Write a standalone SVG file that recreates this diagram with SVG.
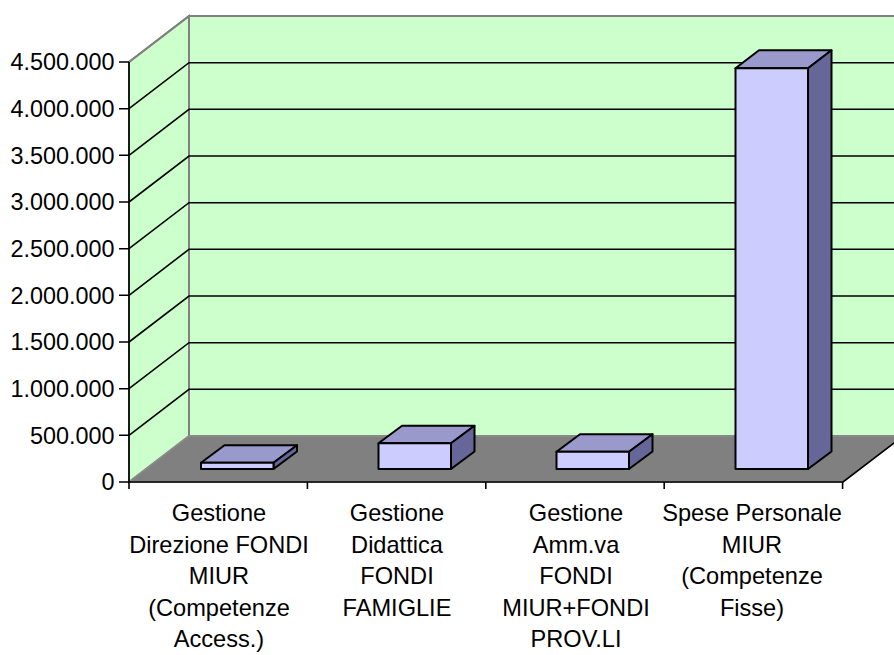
<svg xmlns="http://www.w3.org/2000/svg" width="894" height="655" viewBox="0 0 894 655">
<style>
.wall{fill:#CCFFCC;stroke:#808080;stroke-width:2}
.grid{stroke:#000;stroke-width:1.6;fill:none}
.axis{stroke:#000;stroke-width:1.6;fill:none}
.front{fill:#CCCCFF;stroke:#000;stroke-width:2;stroke-linejoin:round}
.top{fill:#9999CC;stroke:#000;stroke-width:2;stroke-linejoin:round}
.side{fill:#666699;stroke:#000;stroke-width:2;stroke-linejoin:round}
.ylab{font-family:"Liberation Sans",Arial,sans-serif;font-size:23.4px;fill:#000;text-anchor:end}
.xlab{font-family:"Liberation Sans",Arial,sans-serif;font-size:23.6px;fill:#000;text-anchor:middle}
</style>
<rect width="894" height="655" fill="#fff"/>
<g id="walls">
<polygon class="wall" points="189,16 903,16 903,436 189,436"/>
<polygon class="wall" points="129,62 189,16 189,436 129,482"/>
<polygon points="129,482 189,436 903,436 843,482" fill="#808080" stroke="#8c8c8c" stroke-width="1.5"/>
</g>
<g id="gridlines">
<path class="grid" d="M129,435.3 L189,389.3 L903,389.3 M129,388.7 L189,342.7 L903,342.7 M129,342 L189,296 L903,296 M129,295.3 L189,249.3 L903,249.3 M129,248.7 L189,202.7 L903,202.7 M129,202 L189,156 L903,156 M129,155.3 L189,109.3 L903,109.3 M129,108.7 L189,62.7 L903,62.7"/>
<path d="M129,62 L189,16 L903,16" fill="none" stroke="#808080" stroke-width="2"/>
</g>
<g id="axes">
<path class="axis" d="M129,62 L129,482 L843,482 L903,436"/>
<path class="axis" d="M119,62 H129 M119,108.7 H129 M119,155.3 H129 M119,202 H129 M119,248.7 H129 M119,295.3 H129 M119,342 H129 M119,388.7 H129 M119,435.3 H129 M119,482 H129"/>
<path class="axis" d="M129,482 V489 M307.4,482 V489 M485.8,482 V489 M664.2,482 V489 M842.6,482 V489"/>
</g>
<g id="ylabels">
<text class="ylab" x="114.5" y="70.3">4.500.000</text>
<text class="ylab" x="114.5" y="117">4.000.000</text>
<text class="ylab" x="114.5" y="163.6">3.500.000</text>
<text class="ylab" x="114.5" y="210.3">3.000.000</text>
<text class="ylab" x="114.5" y="257">2.500.000</text>
<text class="ylab" x="114.5" y="303.6">2.000.000</text>
<text class="ylab" x="114.5" y="350.3">1.500.000</text>
<text class="ylab" x="114.5" y="397">1.000.000</text>
<text class="ylab" x="114.5" y="443.6">500.000</text>
<text class="ylab" x="114.5" y="490.3">0</text>
</g>
<g id="bar1">
<polygon class="top" points="201,462.7 273.5,462.7 297,445.2 224.5,445.2"/>
<polygon class="side" points="273.5,462.7 297,445.2 297,451.5 273.5,469"/>
<rect class="front" x="201" y="462.7" width="72.5" height="6.3"/>
</g>
<g id="bar2">
<polygon class="top" points="378.5,443.3 451,443.3 474.5,425.8 402,425.8"/>
<polygon class="side" points="451,443.3 474.5,425.8 474.5,451.5 451,469"/>
<rect class="front" x="378.5" y="443.3" width="72.5" height="25.7"/>
</g>
<g id="bar3">
<polygon class="top" points="556.5,451.7 629,451.7 652.5,434.2 580,434.2"/>
<polygon class="side" points="629,451.7 652.5,434.2 652.5,451.5 629,469"/>
<rect class="front" x="556.5" y="451.7" width="72.5" height="17.3"/>
</g>
<g id="bar4">
<polygon class="top" points="735.5,68.3 808,68.3 831.5,50.3 759,50.3"/>
<polygon class="side" points="808,68.3 831.5,50.3 831.5,451.5 808,469"/>
<rect class="front" x="735.5" y="68.3" width="72.5" height="400.7"/>
</g>
<g id="xlabels">
<text class="xlab" x="219"><tspan x="219" y="521">Gestione</tspan><tspan x="219" y="552.6">Direzione FONDI</tspan><tspan x="219" y="584.2">MIUR</tspan><tspan x="219" y="615.8">(Competenze</tspan><tspan x="219" y="647.4">Access.)</tspan></text>
<text class="xlab" x="397"><tspan x="397" y="521">Gestione</tspan><tspan x="397" y="552.6">Didattica</tspan><tspan x="397" y="584.2">FONDI</tspan><tspan x="397" y="615.8">FAMIGLIE</tspan></text>
<text class="xlab" x="576"><tspan x="576" y="521">Gestione</tspan><tspan x="576" y="552.6">Amm.va</tspan><tspan x="576" y="584.2">FONDI</tspan><tspan x="576" y="615.8">MIUR+FONDI</tspan><tspan x="576" y="647.4">PROV.LI</tspan></text>
<text class="xlab" x="752"><tspan x="752" y="521">Spese Personale</tspan><tspan x="752" y="552.6">MIUR</tspan><tspan x="752" y="584.2">(Competenze</tspan><tspan x="752" y="615.8">Fisse)</tspan></text>
</g>
</svg>
